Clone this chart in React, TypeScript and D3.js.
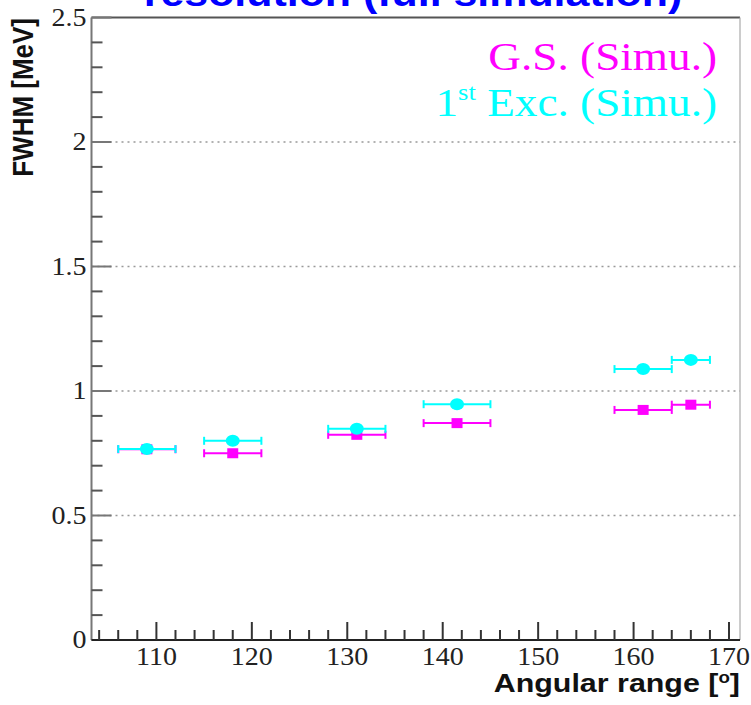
import React from 'react';
import * as d3 from 'd3';

// angular bins and FWHM values
const angles = [109, 118, 131, 141.5, 161, 166];
const angleErr = [3, 3, 3, 3.5, 3, 2];
const gsFwhm = [0.766, 0.75, 0.824, 0.871, 0.924, 0.945];
const excFwhm = [0.767, 0.8, 0.848, 0.947, 1.088, 1.125];

const xMajor = [110, 120, 130, 140, 150, 160, 170];
const xMinor = d3.range(104, 172, 2).filter(v => v % 10 !== 0);
const yMajor = [0, 0.5, 1, 1.5, 2, 2.5];
const yMinor = d3.range(0.1, 2.5, 0.1).filter(v => Math.abs(v * 2 - Math.round(v * 2)) > 0.01);
const yGrid = [0.5, 1, 1.5, 2];

const GS_COLOR = '#ff00ff';
const EXC_COLOR = '#00ffff';
const STRETCH = 1.16;

const left = 91.5;
const right = 740;
const top = 17.5;
const bottom = 640;

const App = () => {
  const x = d3.scaleLinear().domain([103.2, 171.15]).range([left, right]);
  const y = d3.scaleLinear().domain([0, 2.5]).range([bottom, top]);
  const serif = "'Liberation Serif', 'Times New Roman', serif";
  const sans = "'Liberation Sans', Arial, Helvetica, sans-serif";

  const errorBar = (i: number, v: number, color: string) => {
    const x0 = x(angles[i] - angleErr[i]);
    const x1 = x(angles[i] + angleErr[i]);
    const yy = y(v);
    return (
      <g key={`e${color}${i}`} stroke={color} strokeWidth={2}>
        <line x1={x0} x2={x1} y1={yy} y2={yy} />
        <line x1={x0} x2={x0} y1={yy - 4} y2={yy + 4} />
        <line x1={x1} x2={x1} y1={yy - 4} y2={yy + 4} />
      </g>
    );
  };

  return (
    <svg
      width={751}
      height={705}
      style={{ position: 'absolute', left: 0, top: 0, background: '#fff' }}
    >
      {/* title, mostly cut off at the top */}
      <g transform={`translate(413,6) scale(${STRETCH},1)`}>
        <text textAnchor="middle" fontFamily={sans} fontWeight="bold" fontSize={37} fill="#0000ff">
          resolution (full simulation)
        </text>
      </g>

      {/* grid */}
      {yGrid.map(v => (
        <line key={`g${v}`} x1={left} x2={right} y1={y(v)} y2={y(v)}
          stroke="#999" strokeWidth={1.5} strokeDasharray="2 4" />
      ))}

      {/* frame */}
      <line x1={left} x2={right} y1={top} y2={top} stroke="#555" strokeWidth={2} />
      <line x1={right} x2={right} y1={top} y2={bottom} stroke="#aaa" strokeWidth={1.2} />
      <line x1={left} x2={left} y1={top} y2={bottom} stroke="#777" strokeWidth={2} />

      {/* y ticks */}
      {yMajor.map(v => (
        <line key={`ym${v}`} x1={left} x2={left + 20} y1={y(v)} y2={y(v)} stroke="#777" strokeWidth={2} />
      ))}
      {yMinor.map(v => (
        <line key={`yn${v}`} x1={left} x2={left + 11} y1={y(v)} y2={y(v)} stroke="#555" strokeWidth={2} />
      ))}
      {yMajor.map(v => (
        <g key={`yl${v}`} transform={`translate(${left - 5},${y(v)}) scale(1.12,1)`}>
          <text textAnchor="end" dominantBaseline="central" fontFamily={serif} fontSize={25} fill="#222">
            {String(v)}
          </text>
        </g>
      ))}

      {/* x axis */}
      <line x1={left} x2={right} y1={bottom} y2={bottom} stroke="#222" strokeWidth={2} />
      {xMajor.map(v => (
        <line key={`xm${v}`} x1={x(v)} x2={x(v)} y1={bottom} y2={bottom - 18} stroke="#333" strokeWidth={2} />
      ))}
      {xMinor.map(v => (
        <line key={`xn${v}`} x1={x(v)} x2={x(v)} y1={bottom} y2={bottom - 10} stroke="#333" strokeWidth={2} />
      ))}
      {xMajor.map(v => (
        <g key={`xl${v}`} transform={`translate(${x(v)},665) scale(1.12,1)`}>
          <text textAnchor="middle" fontFamily={serif} fontSize={25} fill="#222">
            {v}
          </text>
        </g>
      ))}

      {/* axis titles */}
      <g transform={`translate(740,692) scale(1.17,1)`}>
        <text textAnchor="end" fontFamily={sans} fontWeight="bold" fontSize={26} fill="#111">
          Angular range [<tspan fontSize={16} dy={-9}>o</tspan><tspan dy={9}>]</tspan>
        </text>
      </g>
      <g transform={`translate(33,18) scale(1.17,1) rotate(-90)`}>
        <text textAnchor="end" fontFamily={sans} fontWeight="bold" fontSize={26} fill="#111">
          FWHM [MeV]
        </text>
      </g>

      {/* ground state */}
      {gsFwhm.map((v, i) => errorBar(i, v, GS_COLOR))}
      {gsFwhm.map((v, i) => (
        <rect key={`gs${i}`} x={x(angles[i]) - 5.5} y={y(v) - 5} width={11} height={10} fill={GS_COLOR} />
      ))}

      {/* first excited state */}
      {excFwhm.map((v, i) => errorBar(i, v, EXC_COLOR))}
      {excFwhm.map((v, i) => (
        <ellipse key={`ex${i}`} cx={x(angles[i])} cy={y(v)} rx={7} ry={6} fill={EXC_COLOR} />
      ))}

      {/* legend */}
      <g transform={`translate(717,70) scale(${STRETCH},1)`}>
        <text textAnchor="end" fontFamily={serif} fontSize={39} fill={GS_COLOR}>
          G.S. (Simu.)
        </text>
      </g>
      <g transform={`translate(717,116) scale(${STRETCH},1)`}>
        <text textAnchor="end" fontFamily={serif} fontSize={39} fill={EXC_COLOR}>
          1<tspan fontSize={23} dy={-16}>st</tspan><tspan dy={16}> Exc. (Simu.)</tspan>
        </text>
      </g>
    </svg>
  );
};

export default App;
